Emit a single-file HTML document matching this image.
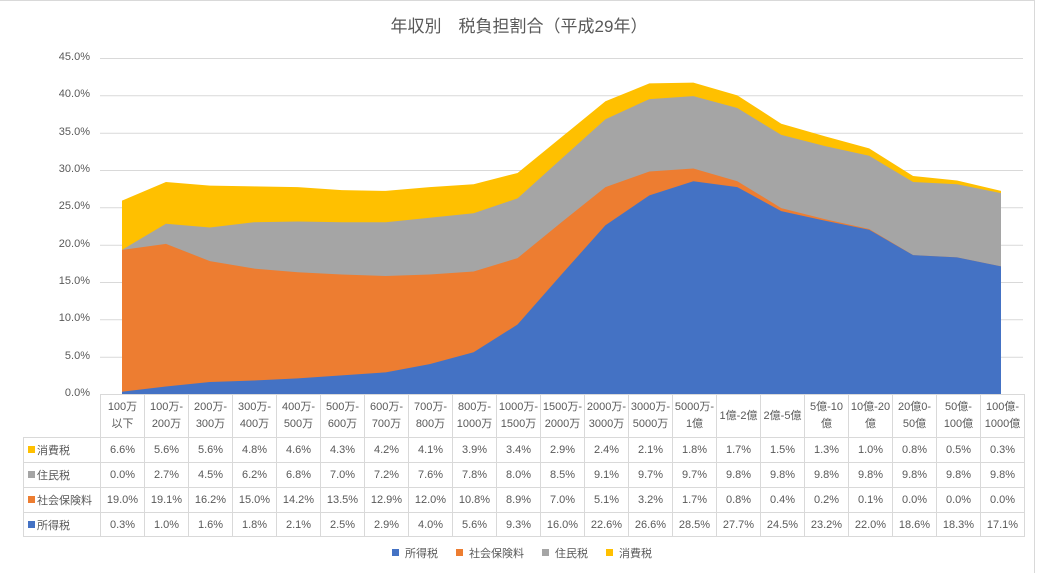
<!DOCTYPE html>
<html><head><meta charset="utf-8"><style>
body{margin:0;width:1038px;height:574px;background:#fff;overflow:hidden;font-family:"Liberation Sans","Noto Sans CJK JP",sans-serif;position:relative}
.frame{position:absolute;left:0;top:0;width:1034px;height:572px;border-top:1px solid #d9d9d9;border-right:1px solid #d9d9d9}
.title{position:absolute;left:0;width:1038px;top:12px;text-align:center;font-size:17px;color:#595959}
.yl{position:absolute;right:948px;font-size:11px;color:#595959;text-align:right}
table{position:absolute;left:23px;top:394px;border-collapse:collapse;table-layout:fixed;font-size:11px;color:#595959}
td{border:1px solid #d9d9d9;text-align:center;padding:0;overflow:hidden;white-space:nowrap}
td.h{line-height:17px;white-space:normal}
td.l{text-align:left;padding-left:4px}
.sq{display:inline-block;width:7px;height:7px;margin-right:2px;vertical-align:1px}
.leg{position:absolute;top:545px;left:0;width:1038px;text-align:center;font-size:11px;color:#595959}
.leg span{margin:0 6px}
</style></head><body>
<div class="frame"></div>
<div class="title">年収別　税負担割合（平成29年）</div>
<svg width="1038" height="574" style="position:absolute;left:0;top:0">
<g stroke="#d9d9d9" stroke-width="1">
<line x1="100" x2="1023" y1="58.5" y2="58.5"/><line x1="100" x2="1023" y1="95.8" y2="95.8"/><line x1="100" x2="1023" y1="133.2" y2="133.2"/><line x1="100" x2="1023" y1="170.5" y2="170.5"/><line x1="100" x2="1023" y1="207.8" y2="207.8"/><line x1="100" x2="1023" y1="245.2" y2="245.2"/><line x1="100" x2="1023" y1="282.5" y2="282.5"/><line x1="100" x2="1023" y1="319.8" y2="319.8"/><line x1="100" x2="1023" y1="357.2" y2="357.2"/><line x1="100" x2="1023" y1="394.5" y2="394.5"/>
</g>
<polygon fill="#FFC000" points="122,394 122,200.61 165.95,181.95 209.9,185.68 253.85,186.43 297.8,187.17 341.75,190.16 385.7,190.91 429.65,187.17 473.6,184.19 517.55,172.99 561.5,137.15 605.45,101.31 649.4,83.39 693.35,82.64 737.3,95.33 781.25,123.71 825.2,136.4 869.15,148.35 913.1,175.97 957.05,180.45 1001,190.91 1001,394"/>
<polygon fill="#A5A5A5" points="122,394 122,249.89 165.95,223.76 209.9,227.49 253.85,222.27 297.8,221.52 341.75,222.27 385.7,222.27 429.65,217.79 473.6,213.31 517.55,198.37 561.5,158.8 605.45,119.23 649.4,99.07 693.35,96.08 737.3,108.03 781.25,134.91 825.2,146.1 869.15,155.81 913.1,181.95 957.05,184.19 1001,193.15 1001,394"/>
<polygon fill="#ED7D31" points="122,394 122,249.89 165.95,243.92 209.9,261.09 253.85,268.56 297.8,272.29 341.75,274.53 385.7,276.03 429.65,274.53 473.6,271.55 517.55,258.11 561.5,222.27 605.45,187.17 649.4,171.49 693.35,168.51 737.3,181.2 781.25,208.08 825.2,219.28 869.15,228.99 913.1,255.12 957.05,257.36 1001,266.32 1001,394"/>
<polygon fill="#4472C4" points="122,394 122,391.76 165.95,386.53 209.9,382.05 253.85,380.56 297.8,378.32 341.75,375.33 385.7,372.35 429.65,364.13 473.6,352.19 517.55,324.56 561.5,274.53 605.45,225.25 649.4,195.39 693.35,181.2 737.3,187.17 781.25,211.07 825.2,220.77 869.15,229.73 913.1,255.12 957.05,257.36 1001,266.32 1001,394"/>
</svg>
<div class="yl" style="top:51px">45.0%</div>
<div class="yl" style="top:88px">40.0%</div>
<div class="yl" style="top:126px">35.0%</div>
<div class="yl" style="top:163px">30.0%</div>
<div class="yl" style="top:200px">25.0%</div>
<div class="yl" style="top:238px">20.0%</div>
<div class="yl" style="top:275px">15.0%</div>
<div class="yl" style="top:312px">10.0%</div>
<div class="yl" style="top:350px">5.0%</div>
<div class="yl" style="top:387px">0.0%</div>
<table>
<colgroup><col style="width:77px"><col span="21" style="width:44px"></colgroup>
<tr style="height:43px"><td style="border:none;border-right:1px solid #d9d9d9"></td>
<td class="h">100万<br>以下</td><td class="h">100万-<br>200万</td><td class="h">200万-<br>300万</td><td class="h">300万-<br>400万</td><td class="h">400万-<br>500万</td><td class="h">500万-<br>600万</td><td class="h">600万-<br>700万</td><td class="h">700万-<br>800万</td><td class="h">800万-<br>1000万</td><td class="h">1000万-<br>1500万</td><td class="h">1500万-<br>2000万</td><td class="h">2000万-<br>3000万</td><td class="h">3000万-<br>5000万</td><td class="h">5000万-<br>1億</td><td class="h">1億-2億</td><td class="h">2億-5億</td><td class="h">5億-10<br>億</td><td class="h">10億-20<br>億</td><td class="h">20億0-<br>50億</td><td class="h">50億-<br>100億</td><td class="h">100億-<br>1000億</td></tr>
<tr style="height:25px"><td class="l"><span class="sq" style="background:#FFC000"></span>消費税</td><td>6.6%</td><td>5.6%</td><td>5.6%</td><td>4.8%</td><td>4.6%</td><td>4.3%</td><td>4.2%</td><td>4.1%</td><td>3.9%</td><td>3.4%</td><td>2.9%</td><td>2.4%</td><td>2.1%</td><td>1.8%</td><td>1.7%</td><td>1.5%</td><td>1.3%</td><td>1.0%</td><td>0.8%</td><td>0.5%</td><td>0.3%</td></tr>
<tr style="height:25px"><td class="l"><span class="sq" style="background:#A5A5A5"></span>住民税</td><td>0.0%</td><td>2.7%</td><td>4.5%</td><td>6.2%</td><td>6.8%</td><td>7.0%</td><td>7.2%</td><td>7.6%</td><td>7.8%</td><td>8.0%</td><td>8.5%</td><td>9.1%</td><td>9.7%</td><td>9.7%</td><td>9.8%</td><td>9.8%</td><td>9.8%</td><td>9.8%</td><td>9.8%</td><td>9.8%</td><td>9.8%</td></tr>
<tr style="height:25px"><td class="l"><span class="sq" style="background:#ED7D31"></span>社会保険料</td><td>19.0%</td><td>19.1%</td><td>16.2%</td><td>15.0%</td><td>14.2%</td><td>13.5%</td><td>12.9%</td><td>12.0%</td><td>10.8%</td><td>8.9%</td><td>7.0%</td><td>5.1%</td><td>3.2%</td><td>1.7%</td><td>0.8%</td><td>0.4%</td><td>0.2%</td><td>0.1%</td><td>0.0%</td><td>0.0%</td><td>0.0%</td></tr>
<tr style="height:24px"><td class="l"><span class="sq" style="background:#4472C4"></span>所得税</td><td>0.3%</td><td>1.0%</td><td>1.6%</td><td>1.8%</td><td>2.1%</td><td>2.5%</td><td>2.9%</td><td>4.0%</td><td>5.6%</td><td>9.3%</td><td>16.0%</td><td>22.6%</td><td>26.6%</td><td>28.5%</td><td>27.7%</td><td>24.5%</td><td>23.2%</td><td>22.0%</td><td>18.6%</td><td>18.3%</td><td>17.1%</td></tr>
</table>
<div class="leg"><span><span class="sq" style="background:#4472C4"></span>所得税</span><span><span class="sq" style="background:#ED7D31"></span>社会保険料</span><span><span class="sq" style="background:#A5A5A5"></span>住民税</span><span><span class="sq" style="background:#FFC000"></span>消費税</span></div>
</body></html>
